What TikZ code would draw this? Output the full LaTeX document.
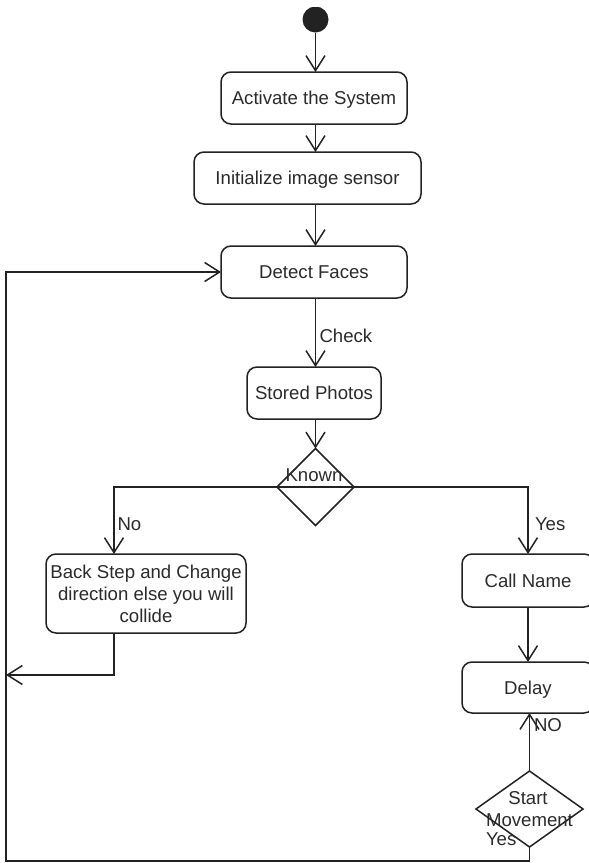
\documentclass[tikz,border=0pt]{standalone}
\usepackage{fontspec}
\setmainfont{Liberation Sans}
\usetikzlibrary{arrows.meta,shapes.geometric}
\definecolor{ink}{HTML}{222222}
\definecolor{txt}{HTML}{2A2A2A}
\begin{document}
\begin{tikzpicture}[x=1pt,y=-1pt,
  every node/.style={font=\fontsize{18.6}{22}\selectfont, text=txt},
  box/.style={draw=ink, line width=1.5pt, rounded corners=10pt, inner sep=0pt, outer sep=0pt},
  act/.style={box, text height=13.3pt, text depth=0pt},
  dec/.style={diamond, draw=ink, line width=1.5pt, inner sep=0pt, outer sep=0pt},
  lbl/.style={inner sep=0pt, outer sep=0pt},
  arr/.style={draw=ink, line width=1.5pt, -{Straight Barb[length=15pt, width=19pt]}}]
\useasboundingbox (0,0) rectangle (589,863);
\clip (0,7) rectangle (589,863);

% activity nodes
\node[circle, fill=ink, minimum size=26pt, inner sep=0pt, outer sep=0pt] (start) at (315.5,19.5) {};
\node[act, minimum width=186pt, minimum height=52pt] (act) at (314,98) {Activate the System};
\node[act, minimum width=227pt, minimum height=52pt] (init) at (307.5,178) {Initialize image sensor};
\node[act, minimum width=186pt, minimum height=52pt] (detect) at (314,272) {Detect Faces};
\node[act, minimum width=134pt, minimum height=52pt] (stored) at (314,393) {Stored Photos};
\node[dec, minimum width=77pt, minimum height=77pt] (known) at (315.5,487) {};
\node[box, minimum width=200pt, minimum height=79pt, align=center] (back) at (146,593.5)
  {Back Step and Change\\direction else you will\\collide};
\node[act, minimum width=132pt, minimum height=53pt] (call) at (528,580.5) {Call Name};
\node[act, minimum width=132pt, minimum height=51pt] (delay) at (528,687.5) {Delay};
\node[dec, minimum width=107pt, minimum height=76pt] (move) at (529.5,809) {};

% decision texts
\node[lbl, anchor=base] at (314,481.7) {Known};
\node[lbl, anchor=base] at (528,804) {Start};
\node[lbl, anchor=base] at (529.5,826.7) {Movement};

% helper coordinates for the routed flows
\coordinate (nox) at (114,0);
\coordinate (lx) at (6,861);
\coordinate (bk) at (6,675);

% main column
\draw[arr] (start) -- (start |- act.north);
\draw[arr] (act.south -| start) -- (init.north -| start);
\draw[arr] (init.south -| start) -- (detect.north -| start);
\draw[arr] (detect.south -| start) -- (stored.north -| start);
\node[lbl, anchor=base west] at (319.5,342.5) {Check};
\draw[arr] (stored.south -| start) -- (known.north);

% branches of the decision
\draw[arr] (known.center) -| (nox |- back.north);
\node[lbl, anchor=base west] at (117.5,530.7) {No};
\draw[arr] (known.center) -| (call.north);
\node[lbl, anchor=base west] at (535,530.7) {Yes};

\draw[arr] (back.south -| nox) |- (bk);
\draw[arr] (call) -- (delay);
\draw[arr] (move.north) -- (move.north |- delay.south);
\node[lbl, anchor=base west] at (534,731.7) {NO};

% loop back to face detection
\draw[arr] (move.south) |- (lx) |- (detect.west);
\node[lbl, anchor=base west] at (486,845) {Yes};
\end{tikzpicture}
\end{document}
